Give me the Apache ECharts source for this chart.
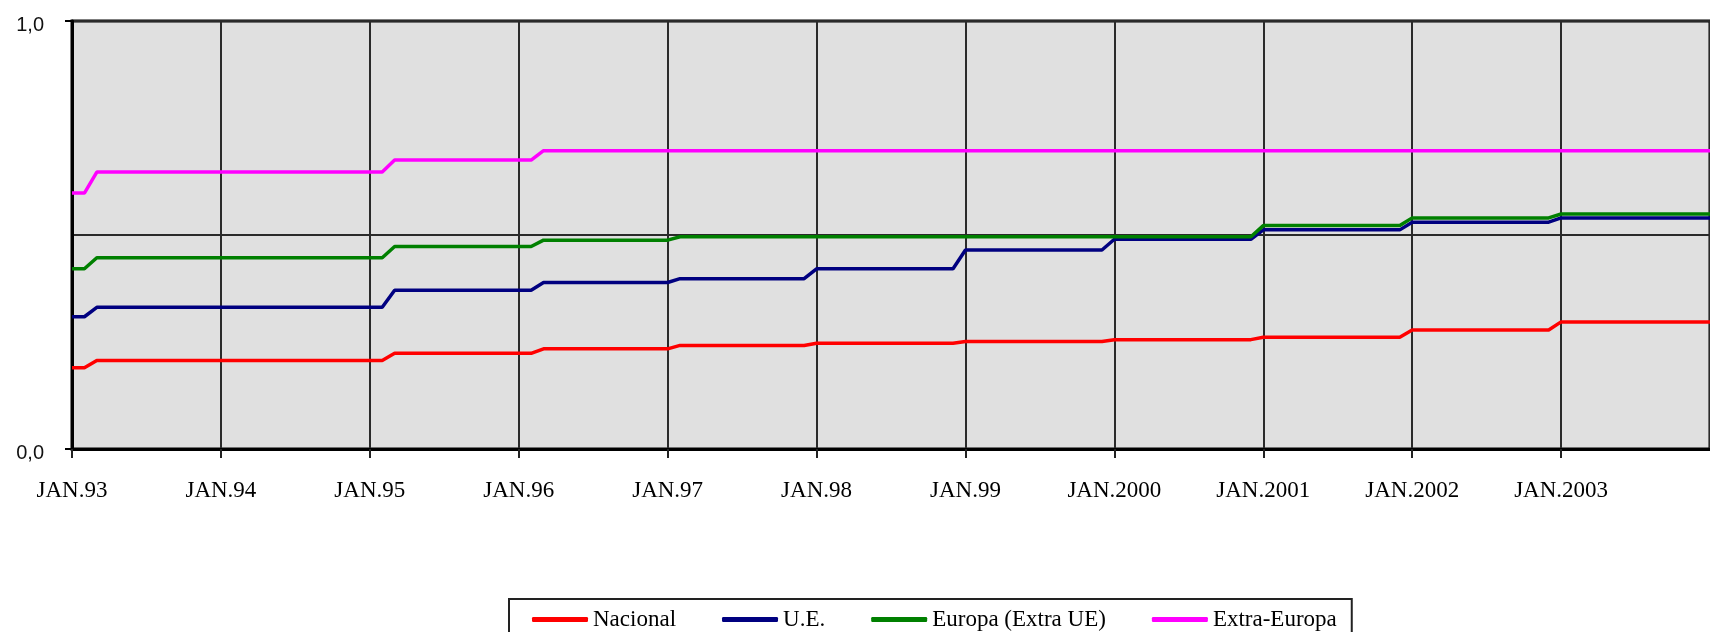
<!DOCTYPE html>
<html><head><meta charset="utf-8">
<script src="https://cdn.jsdelivr.net/npm/echarts/dist/echarts.min.js"></script>
<style>html,body{margin:0;padding:0;background:#fff}#c{width:1710px;height:632px}</style>
</head><body><div id="c"></div>
<script>
// x = months since JAN.93
const xTickLabels = ['JAN.93','JAN.94','JAN.95','JAN.96','JAN.97','JAN.98','JAN.99','JAN.2000','JAN.2001','JAN.2002','JAN.2003','JAN.2004'];
const yTickLabels = ['0,0','1,0'];
const seriesNames = ['Nacional','U.E.','Europa (Extra UE)','Extra-Europa'];
const seriesColors = ['#ff0000','#000080','#008000','#ff00ff'];

const nacional = [[0,0.190],[1,0.190],[2,0.207],[25,0.207],[26,0.2235],[37,0.2235],[38,0.234],[48,0.234],[49,0.242],[59,0.242],[60,0.247],[71,0.247],[72,0.251],[83,0.251],[84,0.2555],[95,0.2555],[96,0.261],[107,0.261],[108,0.278],[119,0.278],[120,0.297],[132,0.297]];
const ue = [[0,0.309],[1,0.309],[2,0.331],[25,0.331],[26,0.371],[37,0.371],[38,0.389],[48,0.389],[49,0.398],[59,0.398],[60,0.421],[71,0.421],[72,0.465],[83,0.465],[84,0.490],[95,0.490],[96,0.512],[107,0.512],[108,0.530],[119,0.530],[120,0.540],[132,0.540]];
const europaExtraUE = [[0,0.421],[1,0.421],[2,0.447],[25,0.447],[26,0.473],[37,0.473],[38,0.488],[48,0.488],[49,0.496],[95,0.496],[96,0.522],[107,0.522],[108,0.540],[119,0.540],[120,0.549],[132,0.549]];
const extraEuropa = [[0,0.598],[1,0.598],[2,0.647],[25,0.647],[26,0.675],[37,0.675],[38,0.697],[132,0.697]];
const seriesData = [nacional, ue, europaExtraUE, extraEuropa];

const chart = echarts.init(document.getElementById('c'), null, {renderer:'canvas'});
const serifFont = '"Liberation Serif", "DejaVu Serif", serif';
chart.setOption({
  animation: false,
  backgroundColor: '#ffffff',
  grid: {left: 72, top: 21, right: -34, bottom: 183, show: true, backgroundColor: '#e0e0e0', borderColor: '#000', borderWidth: 3},
  xAxis: {
    type: 'value', min: 0, max: 132, interval: 12,
    axisLine: {show: true, lineStyle: {color: '#000', width: 3}},
    axisTick: {show: true, inside: false, length: 9, lineStyle: {color: '#222', width: 2}},
    axisLabel: {show: true, margin: 30, showMaxLabel: false, color: '#000', fontFamily: serifFont, fontSize: 23,
      formatter: v => xTickLabels[Math.round(v / 12)] || ''},
    splitLine: {show: true, lineStyle: {color: '#2a2a2a', width: 2}}
  },
  yAxis: [{
    type: 'value', min: 0, max: 1, interval: 1,
    axisLine: {show: true, lineStyle: {color: '#000', width: 3}},
    axisTick: {show: true, length: 7, lineStyle: {color: '#000', width: 2}},
    axisLabel: {show: true, margin: 28, color: '#111',
      formatter: v => '{v|' + yTickLabels[Math.round(v)] + '}',
      rich: {v: {fontFamily: '"Liberation Sans", Arial, sans-serif', fontSize: 20, color: '#111', padding: [9, 0, 0, 0]}}},
    splitLine: {show: false}
  }, {
    type: 'value', min: 0, max: 1, interval: 0.5, position: 'left',
    axisLine: {show: false}, axisTick: {show: false}, axisLabel: {show: false},
    splitLine: {show: true, lineStyle: {color: '#2a2a2a', width: 2}}
  }],
  legend: {
    left: 509, top: 599, orient: 'horizontal',
    padding: [9, 15, 14, 23], itemGap: 46,
    borderColor: '#222', borderWidth: 2, backgroundColor: '#fff',
    itemWidth: 56, itemHeight: 5, icon: 'roundRect',
    textStyle: {fontFamily: serifFont, fontSize: 23, color: '#000'},
    data: seriesNames
  },
  series: seriesNames.map((name, i) => ({
    name, type: 'line', data: seriesData[i], yAxisIndex: 0,
    showSymbol: false, symbol: 'none',
    itemStyle: {color: seriesColors[i]},
    lineStyle: {color: seriesColors[i], width: 3.5}
  }))
});
</script></body></html>
